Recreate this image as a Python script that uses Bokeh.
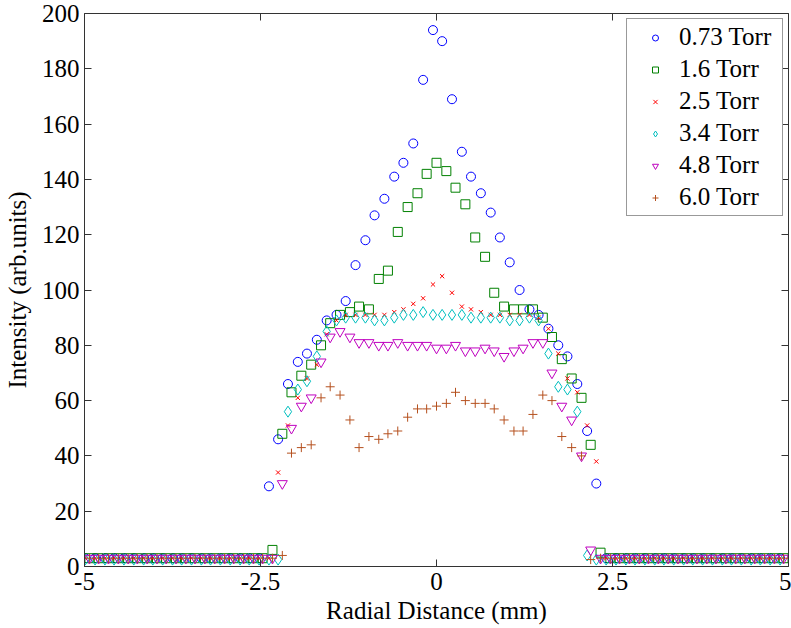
from bokeh.plotting import figure
from bokeh.models import (Range1d, LinearAxis, FixedTicker, NumeralTickFormatter,
                          Legend, LegendItem, ColumnDataSource)
from bokeh.embed import file_html
from bokeh.resources import INLINE

# ---------------- data ----------------
# sampling positions (mm) of the two interleaved detector grids
X_A = [-4.99, -4.85, -4.71, -4.58, -4.44, -4.30, -4.16, -4.03, -3.89, -3.75,
       -3.62, -3.48, -3.34, -3.21, -3.07, -2.93, -2.79, -2.66, -2.52,
       -2.38, -2.25, -2.11, -1.97, -1.84, -1.70, -1.56, -1.42, -1.29, -1.15,
       -1.01, -0.88, -0.74, -0.60, -0.47, -0.33, -0.19, -0.05, 0.08, 0.22,
       0.36, 0.49, 0.63, 0.77, 0.90, 1.04, 1.18, 1.32, 1.45, 1.59, 1.73,
       1.86, 2.00, 2.14, 2.27,
       2.41, 2.55, 2.69, 2.82, 2.96, 3.10, 3.23, 3.37, 3.51, 3.64, 3.78,
       3.92, 4.06, 4.19, 4.33, 4.47, 4.60, 4.74, 4.88]
X_B = [-4.93, -4.80, -4.66, -4.52, -4.38, -4.25, -4.11, -3.97, -3.84, -3.70,
       -3.56, -3.43, -3.29, -3.15, -3.01, -2.88, -2.74, -2.60, -2.47,
       -2.33, -2.19, -2.06, -1.92, -1.78, -1.64, -1.51, -1.37, -1.23, -1.10,
       -0.96, -0.82, -0.69, -0.55, -0.41, -0.27, -0.14, 0.00, 0.14, 0.27,
       0.41, 0.55, 0.69, 0.82, 0.96, 1.10, 1.23, 1.37, 1.51, 1.64, 1.78,
       1.92, 2.06, 2.19, 2.33,
       2.47, 2.60, 2.74, 2.88, 3.01, 3.15, 3.29, 3.43, 3.56, 3.70, 3.84,
       3.97, 4.11, 4.25, 4.38, 4.52, 4.66, 4.80, 4.93]

Y_073 = [3, 3, 3, 3, 3, 3, 3, 3, 3, 3, 3, 3, 3, 3, 3, 3, 3, 3, 3,
         29, 46, 66, 74, 77, 82, 89, 91, 96, 109, 118, 127, 133, 141, 146,
         153, 176, 194, 190, 169, 150, 141, 135, 128, 119, 110, 100, 93, 91,
         86, 80, 76, 66, 49, 30,
         3, 3, 3, 3, 3, 3, 3, 3, 3, 3, 3, 3, 3, 3, 3, 3, 3, 3, 3]
Y_16 = [3, 3, 3, 3, 3, 3, 3, 3, 3, 3, 3, 3, 3, 3, 3, 3, 3, 3, 3,
        6, 48, 63, 69, 73, 80, 88, 91, 92, 94, 93, 104, 107, 121, 130,
        135, 142, 146, 143, 137, 131, 119, 112, 99, 94, 93, 93, 93, 90,
        83, 75, 68, 61, 44, 5,
        3, 3, 3, 3, 3, 3, 3, 3, 3, 3, 3, 3, 3, 3, 3, 3, 3, 3, 3]
Y_25 = [3, 3, 3, 3, 3, 3, 3, 3, 3, 3, 3, 3, 3, 3, 3, 3, 3, 3, 3,
        3, 34, 51, 61, 68, 73, 84, 89, 91, 91, 91, 91, 91, 92, 93,
        95, 97, 102, 105, 99, 94, 93, 92, 91, 91, 91, 91, 91, 90,
        86, 77, 68, 63, 51, 38,
        3, 3, 3, 3, 3, 3, 3, 3, 3, 3, 3, 3, 3, 3, 3, 3, 3, 3, 3]
Y_34 = [2.5, 2.5, 2.5, 2.5, 2.5, 2.5, 2.5, 2.5, 2.5, 2.5, 2.5, 2.5, 2.5, 2.5,
        2.5, 2.5, 2.5, 2.5, 2.5,
        2.5, 2.5, 56, 64, 67, 76, 85, 89, 90, 90, 90, 89, 89, 90, 91,
        91, 92, 91, 91, 91, 91, 90, 90, 90, 90, 89, 89, 90, 89,
        77, 65, 64, 56, 4, 2.5,
        2.5, 2.5, 2.5, 2.5, 2.5, 2.5, 2.5, 2.5, 2.5, 2.5, 2.5, 2.5, 2.5, 2.5,
        2.5, 2.5, 2.5, 2.5, 2.5]
Y_48 = [3, 3, 3, 3, 3, 3, 3, 3, 3, 3, 3, 3, 3, 3, 3, 3, 3, 3, 3,
        3, 30, 50, 58, 61, 74, 83, 85, 83, 81, 81, 80, 80, 81, 80,
        80, 80, 79, 79, 80, 78, 78, 79, 78, 76, 78, 79, 81, 81,
        70, 58, 53, 40, 6, 3,
        3, 3, 3, 3, 3, 3, 3, 3, 3, 3, 3, 3, 3, 3, 3, 3, 3, 3, 3]
Y_60 = [3, 3, 3, 3, 3, 3, 3, 3, 3, 3, 3, 3, 3, 3, 3, 3, 3, 3, 3,
        3, 4, 41, 43, 44, 61, 65, 62, 53, 43, 47, 46, 48, 49, 54,
        57, 57, 58, 59, 63, 60, 59, 59, 57, 53, 49, 49, 55, 62,
        60, 47, 43, 40, 2.5, 3,
        3, 3, 3, 3, 3, 3, 3, 3, 3, 3, 3, 3, 3, 3, 3, 3, 3, 3, 3]

LABELS = ["0.73 Torr", "1.6 Torr", "2.5 Torr", "3.4 Torr", "4.8 Torr", "6.0 Torr"]
X_TICKS = [-5, -2.5, 0, 2.5, 5]
Y_TICKS = [0, 20, 40, 60, 80, 100, 120, 140, 160, 180, 200]

# ---------------- figure ----------------
FONT = "'Liberation Serif', 'Times New Roman', serif"
AX_COL = "#333333"

p = figure(frame_width=704, frame_height=553,
           x_range=Range1d(-5, 5), y_range=Range1d(0, 200),
           output_backend="svg", toolbar_location=None,
           min_border_left=84, min_border_right=3,
           min_border_top=13, min_border_bottom=62,
           background_fill_color="white", border_fill_color="white")
p.outline_line_color = None
p.xgrid.visible = False
p.ygrid.visible = False


def style_axis(ax, ticks, show_labels=True):
    ax.ticker = FixedTicker(ticks=ticks)
    ax.axis_line_color = AX_COL
    ax.axis_line_width = 1
    ax.major_tick_line_color = AX_COL
    ax.major_tick_in = 7
    ax.major_tick_out = 0
    ax.minor_tick_line_color = None
    ax.major_label_text_font = FONT
    ax.major_label_text_color = "black"
    ax.axis_label_text_font = FONT
    ax.axis_label_text_font_style = "normal"
    ax.axis_label_text_color = "black"
    if show_labels:
        ax.major_label_text_font_size = "25px"
        ax.axis_label_text_font_size = "25px"
    else:
        ax.major_label_text_font_size = "1px"
        ax.major_label_text_color = None
        ax.major_label_standoff = 0


style_axis(p.xaxis[0], X_TICKS)
p.xaxis[0].formatter = NumeralTickFormatter(format="0.[0]")
p.xaxis[0].axis_label = "Radial Distance (mm)"
p.xaxis[0].major_label_standoff = 6
p.xaxis[0].axis_label_standoff = 4

style_axis(p.yaxis[0], Y_TICKS)
p.yaxis[0].axis_label = "Intensity (arb.units)"
p.yaxis[0].major_label_standoff = 5
p.yaxis[0].axis_label_standoff = 8

top = LinearAxis()
style_axis(top, X_TICKS, show_labels=False)
p.add_layout(top, "above")
right = LinearAxis()
style_axis(right, Y_TICKS, show_labels=False)
p.add_layout(right, "right")

series = [
    (LABELS[0], X_A, Y_073, "circle", "#0000FF", 9),
    (LABELS[1], X_B, Y_16, "square", "#008000", 9),
    (LABELS[2], X_A, Y_25, "x", "#FF0000", 6),
    (LABELS[3], X_A, Y_34, "diamond", "#00BFBF", 11),
    (LABELS[4], X_B, Y_48, "inverted_triangle", "#BF00BF", 10),
    (LABELS[5], X_B, Y_60, "cross", "#B5501E", 9),
]

items = []
for label, xs, ys, marker, color, size in series:
    src = ColumnDataSource(data=dict(x=xs, y=ys))
    r = p.scatter("x", "y", source=src, marker=marker, size=size,
                  line_color=color, fill_color=None, line_width=1)
    items.append(LegendItem(label=label, renderers=[r]))

legend = Legend(items=items, location="top_right", margin=5, padding=4,
                spacing=4, label_height=24, glyph_height=15, glyph_width=48,
                label_standoff=0, label_width=99,
                label_text_font=FONT, label_text_font_size="25px",
                label_text_color="black",
                border_line_color=AX_COL, border_line_width=1,
                background_fill_color="white", background_fill_alpha=1.0)
p.add_layout(legend)

open("out.html", "w").write(file_html(p, INLINE))
